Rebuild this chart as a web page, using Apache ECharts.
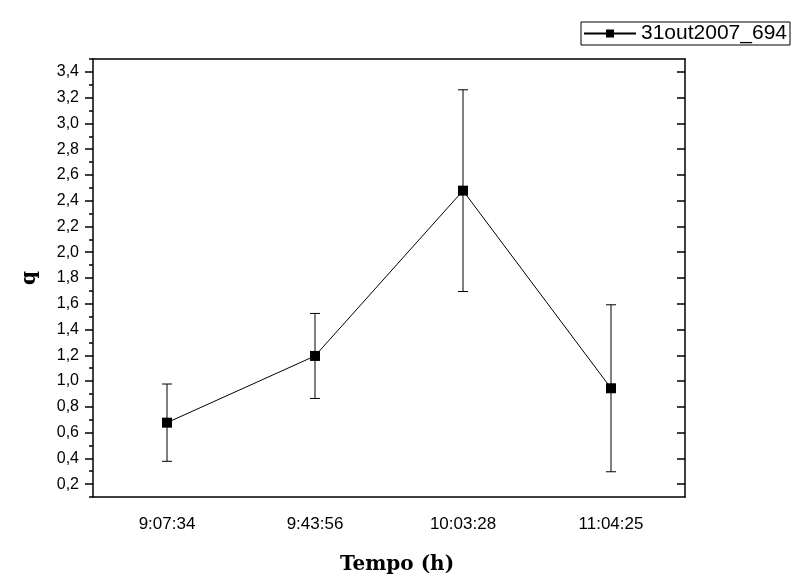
<!DOCTYPE html>
<html>
<head>
<meta charset="utf-8">
<title>q x Tempo</title>
<script src="https://cdn.jsdelivr.net/npm/echarts@6/dist/echarts.min.js"></script>
<style>
html, body { margin: 0; padding: 0; background: #fff; }
#chart { width: 794px; height: 581px; }
</style>
</head>
<body>
<div id="chart"></div>
<script>
// dados
var tempos = ['9:07:34', '9:43:56', '10:03:28', '11:04:25'];
var q = [0.677, 1.195, 2.478, 0.944];
var erro = [0.300, 0.330, 0.783, 0.648];
var yMajor = [0.2, 0.4, 0.6, 0.8, 1.0, 1.2, 1.4, 1.6, 1.8, 2.0, 2.2, 2.4, 2.6, 2.8, 3.0, 3.2, 3.4];
var yMinor = [0.1, 0.3, 0.5, 0.7, 0.9, 1.1, 1.3, 1.5, 1.7, 1.9, 2.1, 2.3, 2.5, 2.7, 2.9, 3.1, 3.3, 3.5];

var barras = q.map(function (v, i) { return [i, v - erro[i], v + erro[i]]; });

var eixo = { lineStyle: { color: '#000', width: 1.5 } };
var fonte = 'Arial, "Liberation Sans", sans-serif';
var serif = '"DejaVu Serif", "Liberation Serif", serif';

echarts.init(document.getElementById('chart')).setOption({
    backgroundColor: '#fff',
    animation: false,
    grid: { left: 93, right: 109, top: 59, bottom: 84 },
    legend: {
        data: ['31out2007_694'],
        right: 4,
        top: 22,
        borderColor: '#000',
        borderWidth: 1,
        borderRadius: 0,
        padding: [1, 3, 1, 2],
        itemWidth: 52,
        itemHeight: 10,
        itemGap: 4,
        textStyle: { fontSize: 21, lineHeight: 18, fontFamily: fonte, color: '#000' }
    },
    xAxis: [{
        type: 'category',
        data: tempos,
        position: 'bottom',
        name: 'Tempo (h)',
        nameLocation: 'middle',
        nameGap: 58,
        nameTextStyle: { fontSize: 20, fontWeight: 'bold', fontFamily: serif, color: '#000', padding: [0, 0, 0, 16] },
        axisLine: eixo,
        axisTick: { alignWithLabel: true, length: 9, lineStyle: { color: '#000', width: 1.5 } },
        axisLabel: { margin: 19, fontSize: 17, fontFamily: fonte, color: '#000' },
        splitLine: { show: false }
    }, {
        type: 'category',
        data: tempos,
        position: 'bottom',
        axisLine: { show: false },
        axisTick: { length: 5, lineStyle: { color: '#000', width: 1.5 } },
        axisLabel: { show: false },
        splitLine: { show: false }
    }, {
        type: 'category',
        data: tempos,
        position: 'top',
        axisLine: eixo,
        axisTick: { alignWithLabel: true, inside: true, length: 8, lineStyle: { color: '#000', width: 1.5 } },
        axisLabel: { show: false },
        splitLine: { show: false }
    }],
    yAxis: [{
        type: 'value',
        min: 0.1,
        max: 3.5,
        position: 'left',
        name: 'q',
        nameLocation: 'middle',
        nameRotate: 90,
        nameGap: 53,
        nameTextStyle: { fontSize: 20, fontWeight: 'bold', fontFamily: serif, color: '#000' },
        axisLine: { show: true, lineStyle: { color: '#000', width: 1.5 } },
        axisTick: { show: true, length: 8, customValues: yMajor, lineStyle: { color: '#000', width: 1.5 } },
        axisLabel: {
            margin: 14, fontSize: 16, fontFamily: fonte, color: '#000',
            customValues: yMajor,
            formatter: function (v) { return v.toFixed(1).replace('.', ','); }
        },
        splitLine: { show: false }
    }, {
        type: 'value',
        min: 0.1,
        max: 3.5,
        position: 'left',
        axisLine: { show: false },
        axisTick: { show: true, length: 4, customValues: yMinor, lineStyle: { color: '#000', width: 1.5 } },
        axisLabel: { show: false },
        splitLine: { show: false }
    }, {
        type: 'value',
        min: 0.1,
        max: 3.5,
        position: 'right',
        axisLine: { show: true, lineStyle: { color: '#000', width: 1.5 } },
        axisTick: { show: true, inside: true, length: 8, customValues: yMajor, lineStyle: { color: '#000', width: 1.5 } },
        axisLabel: { show: false },
        splitLine: { show: false }
    }],
    series: [{
        type: 'custom',
        name: 'erro',
        data: barras,
        z: 1,
        renderItem: function (params, api) {
            var i = api.value(0);
            var lo = api.coord([i, api.value(1)]);
            var hi = api.coord([i, api.value(2)]);
            var w = 5;
            var st = { stroke: '#000', lineWidth: 1 };
            return {
                type: 'group',
                children: [
                    { type: 'line', shape: { x1: lo[0], y1: lo[1], x2: hi[0], y2: hi[1] }, style: st },
                    { type: 'line', shape: { x1: lo[0] - w, y1: lo[1], x2: lo[0] + w, y2: lo[1] }, style: st },
                    { type: 'line', shape: { x1: hi[0] - w, y1: hi[1], x2: hi[0] + w, y2: hi[1] }, style: st }
                ]
            };
        }
    }, {
        type: 'line',
        name: '31out2007_694',
        data: q,
        z: 3,
        symbol: 'rect',
        symbolSize: 10,
        showAllSymbol: true,
        lineStyle: { color: '#000', width: 1 },
        itemStyle: { color: '#000' }
    }]
});
</script>
</body>
</html>
